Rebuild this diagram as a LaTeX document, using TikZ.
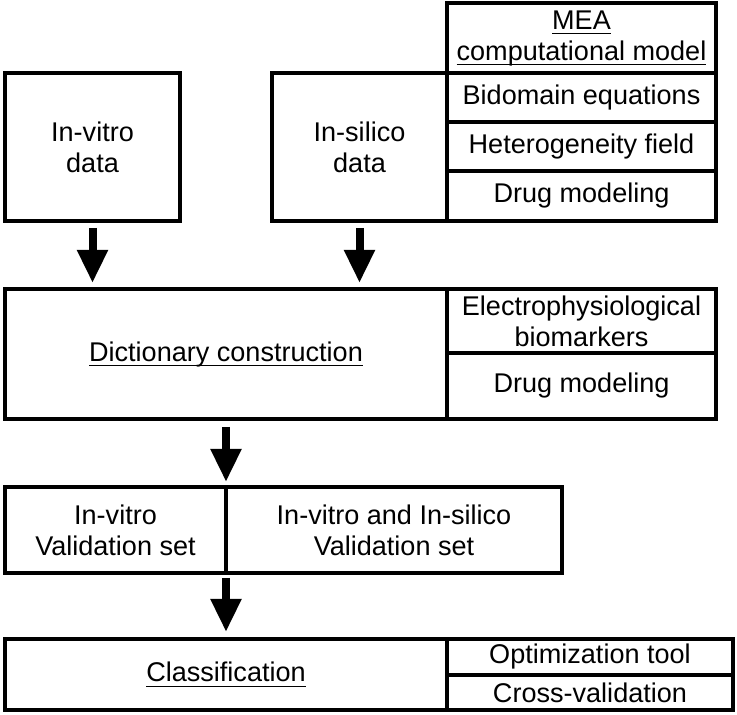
\documentclass[tikz,border=0pt]{standalone}
\usepackage{fontspec}
\setmainfont{Liberation Sans}
\usetikzlibrary{arrows.meta,positioning}

\newcommand{\undl}[1]{\underline{\raisebox{0pt}[\height][1pt]{#1}}}

\tikzset{
  cell/.style={draw, line width=1.9pt, inner sep=0pt, outer sep=0pt, align=center,
    font=\fontsize{15.4}{17.7}\selectfont},
  bigarrow/.style={line width=0.16cm, -{Triangle[length=0.66cm,width=0.58cm]}}
}

\begin{document}
\begin{tikzpicture}
\useasboundingbox (0,0) rectangle (14.74,14.3);

% data boxes
\node[cell, anchor=north west, minimum width=3.5cm, minimum height=2.96cm] (invitro) at (0.1,12.84) {In-vitro\\data};
\node[cell, anchor=north west, minimum width=3.5cm, minimum height=2.96cm] (insilico) at (5.44,12.84) {In-silico\\data};

% model column
\node[cell, anchor=north west, minimum width=5.38cm, minimum height=1.4cm] (mea) at (8.94,14.24) {\undl{MEA}\\\undl{computational model}};
\node[cell, below=0pt of mea, minimum width=5.38cm, minimum height=0.98cm] (bidomain) {Bidomain equations};
\node[cell, below=0pt of bidomain, minimum width=5.38cm, minimum height=0.98cm] (hetero) {Heterogeneity field};
\node[cell, below=0pt of hetero, minimum width=5.38cm, minimum height=1.0cm] (drugA) {Drug modeling};

% dictionary
\node[cell, anchor=north west, minimum width=8.84cm, minimum height=2.6cm] (dict) at (0.1,8.52) {\undl{Dictionary construction}};
\node[cell, anchor=north west, minimum width=5.38cm, minimum height=1.28cm] (elec) at (dict.north east) {Electrophysiological\\biomarkers};
\node[cell, below=0pt of elec, minimum width=5.38cm, minimum height=1.32cm] (drugB) {Drug modeling};

% validation sets
\node[cell, anchor=north west, minimum width=4.42cm, minimum height=1.72cm] (valA) at (0.1,4.56) {In-vitro\\Validation set};
\node[cell, right=0pt of valA, minimum width=6.72cm, minimum height=1.72cm] (valB) {In-vitro and In-silico\\Validation set};

% classification
\node[cell, anchor=north west, minimum width=8.84cm, minimum height=1.42cm] (class) at (0.1,1.52) {\undl{Classification}};
\node[cell, anchor=north west, minimum width=5.72cm, minimum height=0.72cm] (opt) at (class.north east) {Optimization tool};
\node[cell, below=0pt of opt, minimum width=5.72cm, minimum height=0.70cm] (cross) {Cross-validation};

% arrows
\draw[bigarrow] ([yshift=-0.14cm]invitro.south) -- ([yshift=0.12cm]dict.north -| invitro.south);
\draw[bigarrow] ([yshift=-0.14cm]insilico.south) -- ([yshift=0.12cm]dict.north -| insilico.south);
\draw[bigarrow] ([yshift=-0.16cm]dict.south -| valA.east) -- ([yshift=0.1cm]valA.north east);
\draw[bigarrow] ([yshift=-0.1cm]valA.south east) -- ([yshift=0.14cm]class.north -| valA.east);
\end{tikzpicture}
\end{document}
